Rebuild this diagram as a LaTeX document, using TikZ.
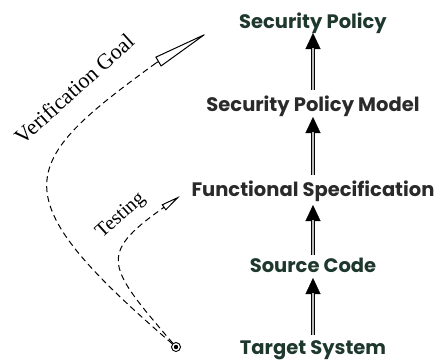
\documentclass[tikz,border=0pt]{standalone}
\usepackage{fontspec}
\setmainfont{Liberation Serif}
\newfontfamily\levelfont{Poppins}
\usetikzlibrary{arrows.meta}
\definecolor{levelgreen}{RGB}{30,56,46}
\definecolor{levelgray}{RGB}{42,42,42}
\tikzset{
  level/.style={inner sep=0pt, anchor=base, font=\levelfont\bfseries\fontsize{19.5}{22}\selectfont, text=levelgreen},
  levelalt/.style={level, text=levelgray},
  refine/.style={double=gray!55, line width=0.8pt, double distance=2.2pt, shorten >=15pt},
  refinetip/.style={line width=0.3pt, -{Triangle[length=16pt,width=15pt]}},
  goal/.style={dashed, dash pattern=on 6pt off 4pt, line width=1pt},
  lbl/.style={inner sep=0pt, rotate=42}
}
\begin{document}
\begin{tikzpicture}[x=1pt,y=-1pt]
  \useasboundingbox (0,0) rectangle (439,359);

  % abstraction levels (placed by baseline)
  \node[level]    (sp)  at (313,28)  {Security Policy};
  \node[levelalt] (spm) at (313,111) {Security Policy Model};
  \node[levelalt] (fs)  at (313,196) {Functional Specification};
  \node[level]    (sc)  at (313,272) {Source Code};
  \node[level]    (ts)  at (313,354) {Target System};

  % refinement arrows
  \foreach \a/\b/\s/\e in {spm/sp/21/-5, fs/spm/21/-6, sc/fs/17/-9, ts/sc/19/-6}{
    \draw[refinetip] ([yshift=\s pt]\a.base) -- ([yshift=\e pt]\b.base);
    \draw[refine]    ([yshift=\s pt]\a.base) -- ([yshift=\e pt]\b.base);
  }

  % starting point of the assurance paths
  \node[circle, draw, line width=0.9pt, minimum size=9pt, inner sep=0pt] (src) at (176,347) {};
  \fill (src) circle (2.2pt);

  \coordinate (vgb) at (156,63);
  \coordinate (vg)  at (209,32);
  \coordinate (teb) at (163,208);
  \coordinate (te)  at (180,196);

  \draw[goal] (src) .. controls (-2.5,193.4) and (17.6,163.6) .. (vgb);
  \draw[line width=1pt, -{Triangle[open, length=59pt, width=11pt]}] (vgb) -- (vg);
  \draw[goal] (src) .. controls (107.6,266.8) and (96.7,254.8) .. (teb);
  \draw[line width=1pt, -{Triangle[open, length=20pt, width=7pt]}] (teb) -- (te);

  \node[lbl, font=\fontsize{22}{24}\selectfont] (vglbl) at (74,89)  {Verification Goal};
  \node[lbl, font=\fontsize{20}{22}\selectfont] (telbl) at (121,216) {Testing};
\end{tikzpicture}
\end{document}
